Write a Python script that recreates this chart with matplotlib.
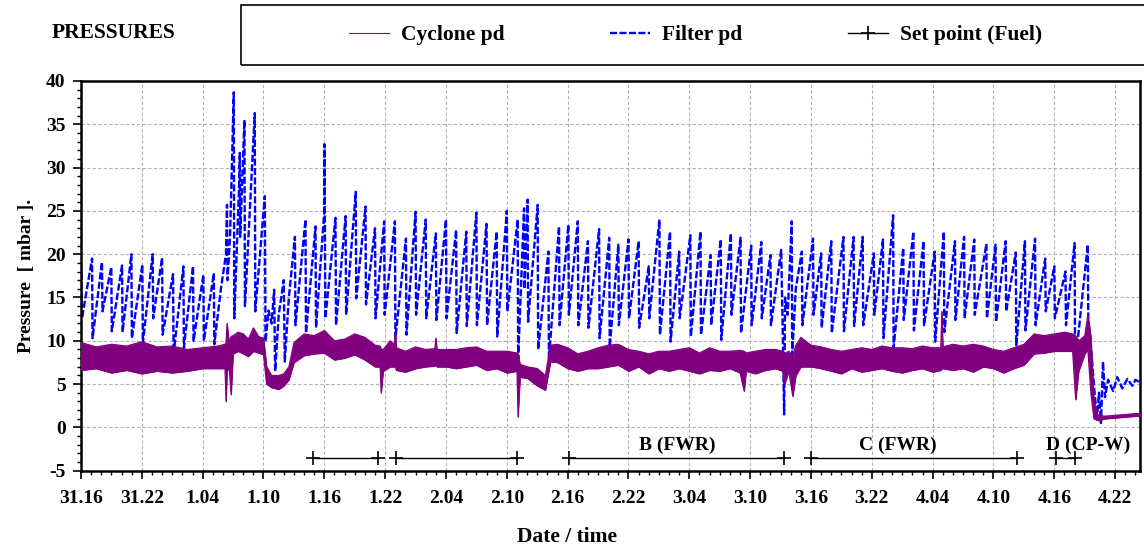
import matplotlib
matplotlib.use("Agg")
import matplotlib.pyplot as plt
from matplotlib.patches import Rectangle
from matplotlib.ticker import MultipleLocator

# hours since 31.16, tick labels as printed on the chart
tick_hours = [0, 6, 12, 18, 24, 30, 36, 42, 48, 54, 60, 66, 72, 78, 84, 90, 96, 102]
tick_labels = ["31.16", "31.22", "1.04", "1.10", "1.16", "1.22", "2.04", "2.10", "2.16",
               "2.22", "3.04", "3.10", "3.16", "3.22", "4.04", "4.10", "4.16", "4.22"]

# Filter pd trace (hours, mbar)
filter_t = [
    0.0, 0.1, 1.09, 1.14, 2.07, 2.12, 2.99, 3.04, 4.05, 4.1, 4.97, 5.02, 6.05, 6.1,
    7.07, 7.12, 8.0, 8.05, 9.08, 9.13, 10.1, 10.15, 11.05, 11.1, 12.07, 12.12, 13.1, 13.15,
    13.8, 14.3, 14.4, 14.45, 14.7, 15.07, 15.12, 15.6, 15.66, 15.7, 16.12, 16.17,
    17.14, 17.19, 18.13, 18.2, 18.5, 18.8, 19.05, 19.15, 19.5, 20.0, 20.1, 20.5,
    21.1, 21.15, 22.14, 22.19, 23.13, 23.18, 24.0, 24.02, 24.05, 24.1,
    25.1, 25.15, 26.1, 26.15, 27.1, 27.15, 28.06, 28.11, 29.0, 29.05, 29.9, 29.95,
    30.96, 31.01, 32.05, 32.1, 33.0, 33.05, 34.0, 34.05, 35.0, 35.05, 36.0, 36.05,
    37.0, 37.05, 38.0, 38.05, 39.0, 39.05, 40.0, 40.05, 41.0, 41.05, 42.0, 42.05,
    43.07, 43.12, 43.7, 43.75, 44.05, 44.1,
    45.04, 45.09, 46.1, 46.15, 47.15, 47.2, 48.07, 48.12, 49.0, 49.05, 50.0, 50.05,
    51.1, 51.15, 52.1, 52.15, 53.0, 53.05, 54.0, 54.05, 55.0, 55.05, 56.0, 56.05,
    57.05, 57.1, 58.1, 58.15, 59.0, 59.05, 60.1, 60.15, 61.1, 61.15, 62.1, 62.15,
    63.1, 63.15, 64.1, 64.15, 65.05, 65.1, 66.1, 66.15, 67.1, 67.15, 68.0, 68.05,
    69.06, 69.2, 69.35, 69.45, 69.7, 70.1, 70.15, 70.5, 71.1, 71.15,
    72.2, 72.25, 73.0, 73.05, 74.0, 74.05, 75.2, 75.25, 76.2, 76.25, 77.1, 77.15,
    78.2, 78.25, 79.1, 79.15, 80.1, 80.15, 81.1, 81.15, 82.1, 82.15, 83.1, 83.15,
    84.2, 84.25, 85.1, 85.15, 86.2, 86.25, 87.1, 87.15, 88.1, 88.15, 89.3, 89.35,
    90.2, 90.25, 91.2, 91.25, 92.2, 92.25, 93.1, 93.15, 94.1, 94.15, 95.1, 95.15,
    96.0, 96.05, 97.1, 97.15, 98.0, 98.05, 99.3, 99.35,
    99.6, 99.9, 100.2, 100.4, 100.6, 100.8, 101.0, 101.3, 101.8, 102.2, 102.7,
    103.2, 103.7, 104.0, 104.45,
]
filter_v = [
    19.0, 12.6, 19.5, 10.3, 19.1, 13.4, 18.5, 11.1, 18.7, 11.0, 20.0, 10.3, 18.8, 9.7,
    20.0, 12.6, 19.6, 10.7, 17.7, 8.4, 18.6, 9.2, 18.6, 10.0, 17.6, 10.0, 17.8, 9.6,
    16.0, 20.0, 25.7, 17.0, 22.0, 38.7, 12.6, 28.0, 31.7, 22.0, 35.5, 14.0,
    36.3, 13.4, 26.7, 9.9, 13.5, 12.0, 15.9, 6.5, 13.0, 17.0, 7.6, 15.0,
    22.0, 11.8, 24.0, 10.9, 23.2, 11.5, 25.0, 32.7, 25.7, 12.6,
    24.2, 11.8, 24.4, 13.0, 27.2, 14.9, 25.5, 14.2, 23.0, 12.6, 23.8, 13.0,
    23.8, 10.3, 21.8, 10.7, 24.9, 13.0, 24.0, 12.6, 22.4, 12.4, 24.0, 12.6,
    22.8, 10.9, 22.6, 11.7, 24.8, 11.8, 23.5, 11.8, 22.6, 10.5, 25.0, 13.4,
    24.0, 8.0, 25.3, 16.0, 26.3, 12.2,
    25.7, 9.0, 20.3, 7.9, 23.2, 11.8, 23.4, 13.0, 23.8, 11.8, 21.5, 11.5,
    22.9, 10.3, 21.9, 9.3, 21.1, 11.8, 21.7, 12.6, 21.5, 11.5, 18.6, 12.6,
    24.0, 10.7, 22.6, 9.9, 20.3, 12.6, 22.2, 10.5, 22.6, 10.7, 19.9, 11.8,
    21.7, 10.1, 22.4, 13.0, 21.9, 10.9, 21.0, 11.8, 21.4, 12.6, 19.9, 11.8,
    20.5, 12.0, 1.5, 15.0, 13.0, 23.8, 8.4, 16.0, 20.3, 11.8,
    21.8, 13.0, 20.1, 11.5, 21.5, 10.9, 22.0, 11.1, 22.0, 11.7, 22.0, 11.8,
    20.1, 13.0, 21.7, 10.3, 24.5, 9.2, 20.7, 12.4, 22.6, 11.2, 21.5, 11.8,
    20.3, 9.9, 22.6, 11.0, 21.5, 12.4, 22.0, 12.6, 21.7, 13.0, 21.2, 12.6,
    21.1, 12.2, 21.5, 13.4, 20.2, 9.5, 21.5, 11.2, 21.8, 11.8, 19.5, 13.4,
    18.6, 12.6, 18.0, 11.8, 21.3, 7.2, 21.1, 12.6,
    9.5, 5.0, 1.0, 4.0, 0.5, 7.6, 3.5, 5.5, 4.2, 5.8, 4.5,
    5.6, 4.8, 5.5, 5.2,
]

# Cyclone pd: lower and upper edge of the noisy band (hours, mbar)
cyclone_t = [
    0.0, 1.5, 3.0, 4.5, 6.0, 7.5, 9.0, 10.5, 12.0, 13.5, 14.2, 14.3, 14.4, 14.6, 14.8,
    15.0, 15.5, 16.0, 16.5, 17.0, 17.5, 18.0, 18.3, 18.8, 19.5, 20.0, 20.5, 21.0,
    22.0, 23.0, 24.0, 25.0, 26.0, 27.0, 28.0, 29.0, 29.5, 29.6, 29.8, 30.5,
    30.9, 31.0, 31.1, 32.0, 33.0, 34.0, 34.9, 35.0, 35.1, 36.0, 37.0, 38.0, 39.0,
    40.0, 41.0, 42.0, 43.0, 43.1, 43.3,
    44.0, 45.0, 45.8, 46.3, 47.0, 48.0, 49.0, 50.0, 51.0, 52.0, 53.0, 54.0, 55.0,
    56.0, 57.0, 58.0, 59.0, 60.0, 61.0, 62.0, 63.0, 64.0, 65.0, 65.4, 65.6, 66.5,
    67.5, 68.5, 69.2, 69.4, 69.8, 70.2, 70.5, 71.0, 72.0, 73.0, 74.0, 75.0, 76.0,
    77.0, 78.0, 79.0, 80.0, 81.0, 82.0, 83.0, 84.0, 84.8, 84.9, 85.0, 86.0, 87.0, 88.0,
    89.0, 90.0, 91.0, 92.0, 93.0, 94.0, 95.0, 96.0, 97.0, 97.8, 98.1, 98.4, 99.0,
    99.3, 99.6, 99.9, 100.3, 101.0, 102.0, 103.0, 104.0, 104.45,
]
cyclone_lo = [
    6.6, 6.8, 6.3, 6.6, 6.2, 6.5, 6.3, 6.5, 6.8, 6.8, 6.8, 3.0, 6.5, 7.0, 3.8,
    8.5, 8.8, 8.5, 8.2, 8.8, 8.6, 8.4, 5.0, 4.6, 4.4, 4.8, 5.5, 7.5,
    8.3, 8.5, 8.6, 7.8, 8.0, 8.4, 7.8, 7.0, 7.0, 4.0, 6.5, 7.0,
    7.0, 7.0, 6.6, 6.4, 6.8, 7.0, 7.1, 7.3, 7.0, 7.0, 6.8, 7.0, 7.2,
    6.6, 6.8, 6.3, 6.5, 1.2, 5.8,
    5.7, 4.8, 4.3, 7.6, 7.5, 6.8, 6.5, 6.8, 6.8, 7.0, 7.2, 6.5, 7.0,
    6.2, 6.8, 6.5, 6.8, 6.5, 6.2, 6.6, 6.5, 6.8, 6.3, 4.2, 6.5, 6.2,
    6.6, 6.8, 6.5, 5.0, 6.5, 3.6, 6.0, 7.0, 7.0, 6.8, 6.5, 6.2, 6.8,
    6.4, 6.6, 6.8, 6.5, 6.3, 6.6, 6.8, 6.4, 6.6, 6.8, 6.8, 6.6, 6.8, 6.4,
    7.0, 6.8, 6.3, 6.8, 7.2, 8.5, 8.6, 8.8, 8.8, 8.8, 3.2, 6.5, 8.5,
    9.0, 4.0, 1.0, 0.8, 1.0, 1.1, 1.2, 1.3, 1.3,
]
cyclone_hi = [
    9.8, 9.3, 9.6, 9.4, 9.9, 9.3, 9.4, 9.0, 9.2, 9.4, 9.6, 9.8, 12.0, 9.8, 10.5,
    10.6, 11.0, 10.8, 10.2, 11.5, 10.5, 10.3, 7.0, 6.0, 6.0, 6.2, 7.0, 9.8,
    10.8, 10.6, 11.2, 10.0, 10.2, 10.8, 10.4, 9.5, 9.4, 9.0, 9.0, 10.0,
    9.6, 11.0, 9.2, 8.8, 9.3, 9.0, 9.1, 10.3, 9.0, 9.0, 9.0, 9.2, 9.3,
    8.8, 8.8, 8.8, 8.6, 8.5, 7.3,
    7.0, 6.8, 6.0, 9.5, 9.6, 9.2, 8.5, 8.8, 9.2, 9.5, 9.6, 9.0, 8.8,
    8.5, 8.8, 8.8, 9.0, 9.2, 8.6, 9.2, 8.8, 8.8, 8.9, 8.8, 8.6, 8.8,
    9.0, 9.0, 8.8, 8.5, 8.8, 8.2, 9.5, 10.4, 9.5, 9.3, 9.0, 8.8, 9.0,
    9.2, 9.0, 9.4, 9.2, 9.2, 9.1, 9.4, 9.2, 9.2, 13.4, 9.3, 9.6, 9.4, 9.6,
    9.4, 9.0, 8.8, 9.2, 9.6, 10.8, 10.6, 10.8, 11.0, 10.8, 10.6, 10.0, 10.6,
    13.0, 10.5, 3.0, 1.4, 1.3, 1.4, 1.5, 1.6, 1.6,
]

# Set point (Fuel) periods (hours) and their labels
setpoint_start = [22.9, 31.1, 48.1, 72.0, 96.2]
setpoint_end = [29.3, 43.0, 69.3, 92.3, 98.0]
setpoint_level = -3.5
period_names = ["B (FWR)", "C (FWR)", "D (CP-W)"]
period_label_x = [58.8, 80.6, 99.3]

plt.rcParams["font.family"] = ["Liberation Serif", "DejaVu Serif"]
plt.rcParams["font.weight"] = "bold"
plt.rcParams["axes.unicode_minus"] = False

fig = plt.figure(figsize=(11.44, 5.49), dpi=100)
ax = fig.add_axes([0.0708, 0.1426, 0.9257, 0.7099])

ax.plot(filter_t, filter_v, color="#0000ff", linewidth=1.7,
        linestyle=(0, (3, 1)), label="Filter pd", zorder=2)
ax.fill_between(cyclone_t, cyclone_lo, cyclone_hi, color="#800080",
                linewidth=0.6, zorder=3)
ax.plot(cyclone_t, cyclone_hi, color="#800080", linewidth=0.8,
        label="Cyclone pd", zorder=3)
ax.plot(cyclone_t, cyclone_lo, color="#800080", linewidth=0.8, zorder=3)

for i, (start, end) in enumerate(zip(setpoint_start, setpoint_end)):
    ax.plot([start, end], [setpoint_level, setpoint_level], color="black",
            linewidth=1.0, marker="+", markersize=10, markeredgewidth=1.2,
            label="Set point (Fuel)" if i == 0 else None, zorder=4)

for name, x in zip(period_names, period_label_x):
    ax.text(x, -2.1, name, ha="center", va="center", fontsize=14, fontweight="bold")

ax.set_xlim(0, 104.45)
ax.set_ylim(-5, 40)
ax.set_xticks(tick_hours)
ax.set_xticklabels(tick_labels)
ax.xaxis.set_minor_locator(MultipleLocator(1))
ax.yaxis.set_major_locator(MultipleLocator(5))
ax.yaxis.set_minor_locator(MultipleLocator(1))
ax.tick_params(which="major", length=6, width=1.2, labelsize=14)
ax.tick_params(axis="x", which="major", pad=8)
ax.tick_params(axis="y", which="major", pad=5)
ax.tick_params(which="minor", length=3, width=1.0)
for label in ax.get_xticklabels() + ax.get_yticklabels():
    label.set_fontweight("bold")
for spine in ax.spines.values():
    spine.set_linewidth(1.8)
ax.grid(True, which="major", color="#b0b0b0", linestyle=(0, (3, 2)), linewidth=0.8)

ax.set_ylabel("Pressure  [ mbar ].", fontsize=14, fontweight="bold", labelpad=8)
fig.text(0.496, 0.022, "Date / time", ha="center", va="center",
         fontsize=15.5, fontweight="bold")
fig.text(0.045, 0.94, "PRESSURES", ha="left", va="center",
         fontsize=15.5, fontweight="bold")

fig.patches.append(Rectangle((0.2107, 0.8816), 0.80, 0.1093, transform=fig.transFigure,
                             fill=False, edgecolor="black", linewidth=1.2))
handles, labels = ax.get_legend_handles_labels()
order = [labels.index("Cyclone pd"), labels.index("Filter pd"), labels.index("Set point (Fuel)")]
fig.legend([handles[i] for i in order], [labels[i] for i in order],
           loc="center", bbox_to_anchor=(0.608, 0.936), ncol=3, frameon=False,
           prop={"size": 15.5, "weight": "bold"}, handlelength=1.86,
           handletextpad=0.56, columnspacing=4.9, numpoints=1)

fig.savefig("out.png", dpi=100)
